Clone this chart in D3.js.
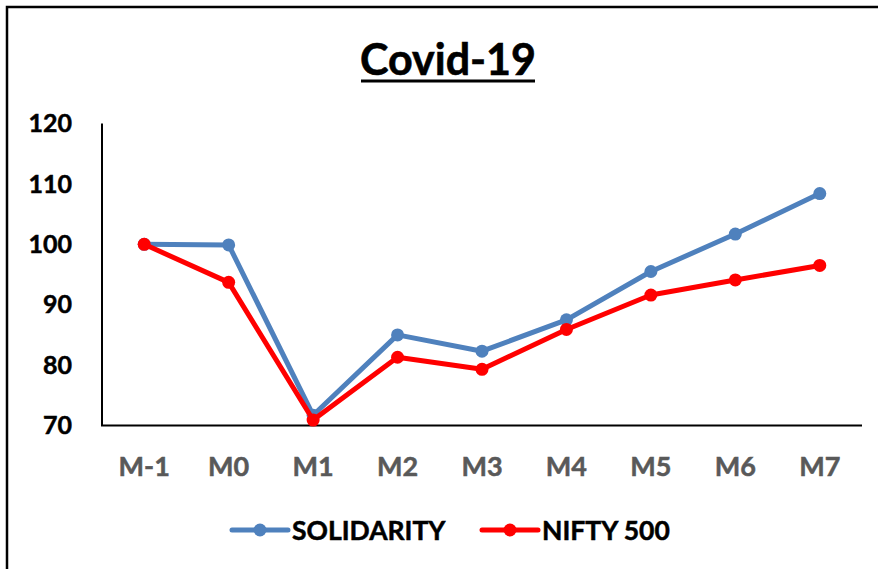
<!DOCTYPE html>
<html>
<head>
<meta charset="utf-8">
<script src="https://cdn.jsdelivr.net/npm/d3@7"></script>
<style>
  body { margin: 0; background: #fff; }
  text { font-family: Lato, "Open Sans", sans-serif; font-weight: bold; }
</style>
</head>
<body>
<div id="here"></div>
<script>
// Covid-19 chart

const months = ["M-1", "M0", "M1", "M2", "M3", "M4", "M5", "M6", "M7"];
const solidarity = [100, 99.9, 71.7, 85.0, 82.3, 87.5, 95.5, 101.7, 108.4];
const nifty500 = [100, 93.7, 70.9, 81.3, 79.3, 85.9, 91.6, 94.1, 96.5];
const yTicks = [70, 80, 90, 100, 110, 120];

const width = 878;
const height = 569;

const svg = d3
    .select("#here")
    .append("svg")
    .attr("width", width)
    .attr("height", height);

// outer frame (right / bottom sides fall off the picture)
svg.append("rect")
    .attr("x", 7)
    .attr("y", 7)
    .attr("width", 900)
    .attr("height", 600)
    .attr("fill", "none")
    .attr("stroke", "#000")
    .attr("stroke-width", 2.5);

// scales
const xScale = d3
    .scaleBand()
    .domain(months)
    .range([102, 862]);

const yScale = d3
    .scaleLinear()
    .domain([70, 120])
    .range([425.5, 123.5]);

const xPos = function(m){
    return xScale(m) + xScale.bandwidth() / 2;
};

// title
svg.append("text")
    .attr("x", 448)
    .attr("y", 75)
    .attr("text-anchor", "middle")
    .attr("font-size", 43)
    .attr("fill", "#000")
    .attr("stroke", "#000")
    .attr("stroke-width", 0.6)
    .text("Covid-19");

svg.append("line")
    .attr("x1", 361)
    .attr("x2", 535)
    .attr("y1", 81)
    .attr("y2", 81)
    .attr("stroke", "#000")
    .attr("stroke-width", 3);

// y axis labels
svg.selectAll(".ylab")
    .data(yTicks)
    .enter()
    .append("text")
    .attr("class", "ylab")
    .attr("x", 72)
    .attr("y", function(d){
        return yScale(d);
    })
    .attr("dy", "0.35em")
    .attr("text-anchor", "end")
    .attr("font-size", 25)
    .attr("fill", "#000")
    .attr("stroke", "#000")
    .attr("stroke-width", 0.5)
    .text(function(d){
        return d;
    });

// x axis labels
svg.selectAll(".xlab")
    .data(months)
    .enter()
    .append("text")
    .attr("class", "xlab")
    .attr("x", function(d){
        return xPos(d);
    })
    .attr("y", 476)
    .attr("text-anchor", "middle")
    .attr("font-size", 27)
    .attr("fill", "#595959")
    .attr("stroke", "#595959")
    .attr("stroke-width", 0.5)
    .text(function(d){
        return d;
    });

// axis lines
svg.append("path")
    .attr("d", `M${xScale.range()[0]},${yScale(120)}V${yScale(70)}H${xScale.range()[1]}`)
    .attr("fill", "none")
    .attr("stroke", "#000")
    .attr("stroke-width", 2);

const series = [
    { name: "SOLIDARITY", values: solidarity, color: "#4F81BD" },
    { name: "NIFTY 500", values: nifty500, color: "#FF0000" }
];

const line = d3.line()
    .x(function(d, i){ return xPos(months[i]); })
    .y(function(d){ return yScale(d); });

series.forEach(function(s){
    svg.append("path")
        .datum(s.values)
        .attr("d", line)
        .attr("fill", "none")
        .attr("stroke", s.color)
        .attr("stroke-width", 5)
        .attr("stroke-linejoin", "round");

    svg.selectAll(null)
        .data(s.values)
        .enter()
        .append("circle")
        .attr("cx", function(d, i){ return xPos(months[i]); })
        .attr("cy", function(d){ return yScale(d); })
        .attr("r", 6.5)
        .attr("fill", s.color);
});

// legend
const legendX = [232, 482];
series.forEach(function(s, i){
    const g = svg.append("g").attr("transform", `translate(${legendX[i]}, 530)`);
    g.append("line")
        .attr("x1", 0)
        .attr("x2", 56)
        .attr("stroke", s.color)
        .attr("stroke-width", 5)
        .attr("stroke-linecap", "round");
    g.append("circle")
        .attr("cx", 28)
        .attr("r", 6.5)
        .attr("fill", s.color);
    g.append("text")
        .attr("x", 60)
        .attr("y", 9.5)
        .attr("font-size", 26.5)
        .attr("fill", "#000")
        .attr("stroke", "#000")
        .attr("stroke-width", 0.5)
        .text(s.name);
});
</script>
</body>
</html>
